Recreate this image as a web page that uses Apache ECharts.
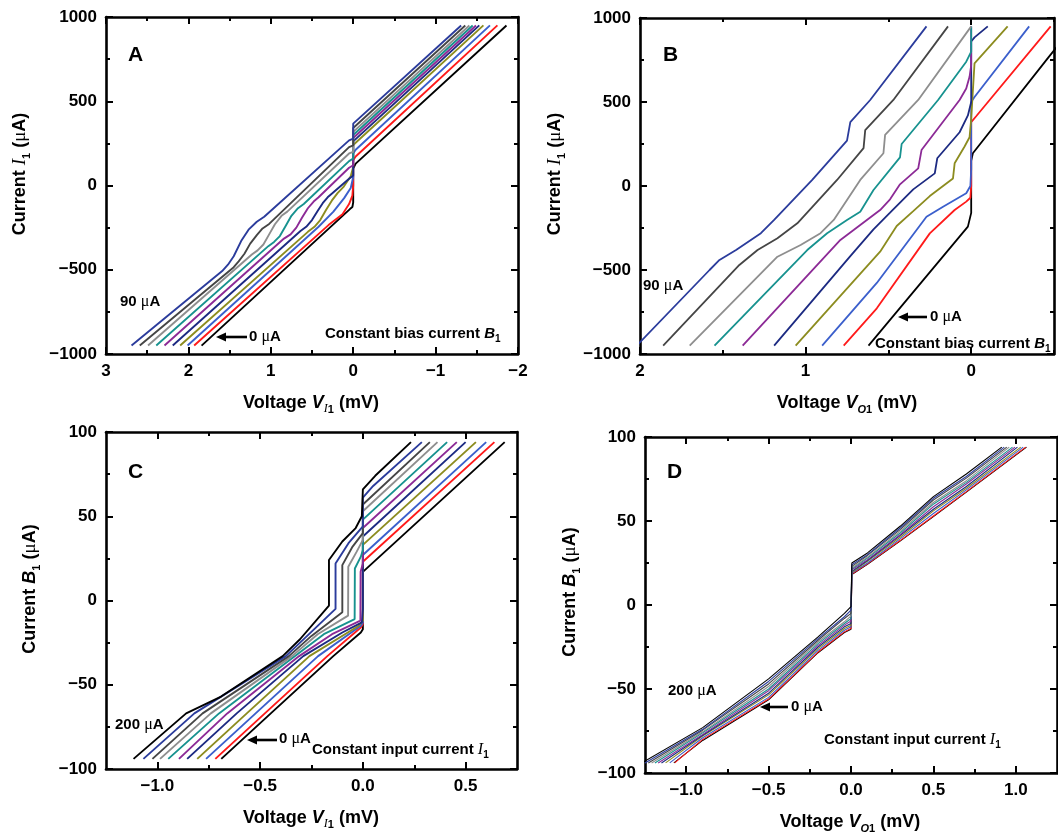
<!DOCTYPE html>
<html><head><meta charset="utf-8">
<script src="https://cdn.jsdelivr.net/npm/echarts@6/dist/echarts.min.js"></script>
<style>html,body{margin:0;padding:0;background:#fff}#c{width:1058px;height:835px}</style>
</head><body><div id="c"></div>
<script>
// ---------- DATA ----------
// Panel A: V_I1 (mV) vs I1 (uA), constant bias current B1 = 0..90 uA
const A_BIAS = [0,10,20,30,40,50,60,70,80,90];
const A00 = [[1.84,-950],[0.04,-140],[0.01,-128],[0,-100],[0,100],[-0.03,130],[-1.86,950]];
const A10 = [[1.93,-950],[0.30,-235],[0.13,-170],[0.05,-110],[0.01,-60],[0,0],[0,150],[-0.03,172],[-1.75,950]];
const A20 = [[2.01,-950],[0.42,-245],[0.24,-155],[0.11,-75],[0.03,-15],[0,50],[0,190],[-0.03,212],[-1.66,950]];
const A30 = [[2.10,-950],[0.55,-275],[0.47,-245],[0.40,-205],[0.33,-145],[0.26,-90],[0.19,-45],[0.12,-10],[0.03,55],[0,110],[0,240],[-1.58,950]];
const A40 = [[2.19,-950],[0.64,-270],[0.57,-245],[0.50,-205],[0.43,-150],[0.37,-105],[0.31,-70],[0.25,-45],[0.05,40],[0,60],[0,262],[-1.53,950]];
const A50 = [[2.29,-950],[0.84,-315],[0.76,-290],[0.69,-250],[0.62,-190],[0.55,-135],[0.48,-95],[0.42,-70],[0.05,105],[0,120],[0,282],[-1.49,950]];
const A60 = [[2.39,-950],[1.03,-360],[0.96,-335],[0.89,-300],[0.82,-240],[0.75,-180],[0.67,-135],[0.60,-110],[0.05,145],[0,160],[0,300],[-1.45,950]];
const A70 = [[2.49,-950],[1.23,-410],[1.16,-385],[1.09,-350],[1.02,-290],[0.95,-230],[0.87,-180],[0.80,-155],[0.05,190],[0,200],[0,318],[-1.41,950]];
const A80 = [[2.59,-950],[1.45,-485],[1.39,-450],[1.32,-405],[1.25,-345],[1.17,-295],[1.10,-255],[1.02,-228],[0.05,228],[0,238],[0,341],[-1.36,950]];
const A90 = [[2.69,-950],[1.59,-508],[1.52,-470],[1.45,-420],[1.36,-330],[1.27,-262],[1.17,-215],[1.08,-185],[0.05,268],[0,278],[0,367],[-1.31,950]];

// Panel B: V_O1 (mV) vs I1 (uA)
const B_BIAS = [0,10,20,30,40,50,60,70,80,90];
const B00 = [[0.62,-950],[0.02,-242],[0,-160],[0,150],[-0.01,195],[-0.47,770],[-0.56,880]];
const B10 = [[0.77,-950],[0.57,-728],[0.25,-282],[0.10,-143],[0.03,-93],[0.005,-70],[0,0],[0,380],[-0.03,415],[-0.48,950]];
const B20 = [[0.90,-950],[0.57,-577],[0.27,-183],[0.17,-123],[0.03,-43],[0.005,0],[0,100],[0,500],[-0.02,530],[-0.35,950]];
const B30 = [[1.06,-950],[0.55,-391],[0.45,-238],[0.35,-150],[0.25,-60],[0.11,45],[0.10,135],[0.04,235],[0.01,290],[0,400],[-0.02,730],[-0.22,950]];
const B40 = [[1.19,-950],[0.73,-417],[0.59,-258],[0.49,-159],[0.35,-20],[0.22,75],[0.205,165],[0.07,320],[0.02,420],[0,500],[0,860],[-0.02,885],[-0.10,950]];
const B50 = [[1.38,-950],[0.79,-321],[0.71,-262],[0.55,-143],[0.49,-79],[0.43,10],[0.32,105],[0.30,214],[0.07,512],[0.03,580],[0.01,650],[0,720],[0,950]];
const B60 = [[1.55,-950],[0.99,-381],[0.87,-281],[0.75,-202],[0.67,-153],[0.59,-24],[0.43,170],[0.42,250],[0.20,512],[0.03,740],[0,800],[0,950]];
const B70 = [[1.70,-950],[1.17,-421],[1.03,-351],[0.91,-281],[0.83,-202],[0.67,36],[0.53,195],[0.52,304],[0.32,512],[0.0,950]];
const B80 = [[1.86,-950],[1.40,-470],[1.29,-381],[1.17,-311],[1.05,-222],[0.81,36],[0.65,225],[0.64,333],[0.47,512],[0.14,950]];
const B90 = [[2.02,-950],[1.58,-500],[1.52,-440],[1.42,-381],[1.27,-281],[1.19,-202],[0.96,36],[0.75,270],[0.73,380],[0.61,512],[0.27,950]];

// Panel C: V_I1 (mV) vs B1 (uA), constant input current I1 = 0..200 uA
const C_INPUT = [0,20,40,60,80,100,120,140,160,180,200];
const C000 = [[-0.689,-94],[-0.448,-67],[-0.144,-33],[-0.01,-19],[0,-17],[0,17],[0.69,94]];
const C020 = [[-0.718,-94],[-0.477,-67],[-0.173,-33],[-0.01,-16],[0,-14],[0,23],[0.64,94]];
const C040 = [[-0.763,-94],[-0.522,-67],[-0.218,-33],[-0.01,-15],[0,-13],[0,27],[0.60,94]];
const C060 = [[-0.806,-94],[-0.565,-67],[-0.26,-33],[-0.02,-15],[0,-12],[0,33],[0.55,94]];
const C080 = [[-0.855,-94],[-0.614,-67],[-0.29,-33],[-0.10,-19],[-0.005,-13],[0,-5],[0,38],[0.50,94]];
const C100 = [[-0.895,-94],[-0.66,-67],[-0.31,-33],[-0.15,-20],[-0.012,-12],[-0.011,17],[0,22],[0,43],[0.457,94]];
const C120 = [[-0.947,-94],[-0.70,-67],[-0.33,-33],[-0.19,-20],[-0.04,-11],[-0.039,19],[-0.01,26],[0,30],[0,48],[0.41,94]];
const C140 = [[-0.987,-94],[-0.74,-67],[-0.345,-33],[-0.22,-20],[-0.072,-9],[-0.071,20],[-0.03,29],[0,36],[0,53],[0.363,94]];
const C160 = [[-1.024,-94],[-0.78,-67],[-0.36,-33],[-0.25,-21],[-0.10,-7],[-0.10,21],[-0.05,32],[0,40],[0,57],[0.326,94]];
const C180 = [[-1.068,-94],[-0.82,-67],[-0.375,-33],[-0.28,-22],[-0.133,-5],[-0.133,22],[-0.07,34],[0,44],[0,61],[0.05,68],[0.287,94]];
const C200 = [[-1.116,-94],[-0.86,-67],[-0.69,-57],[-0.39,-33],[-0.306,-23],[-0.165,-3],[-0.165,24],[-0.10,35],[-0.035,43],[-0.005,50],[0,66],[0.06,74],[0.234,94]];

// Panel D: V_O1 (mV) vs B1 (uA)
const D_INPUT = [0,20,40,60,80,100,120,140,160,180,200];
const D000 = [[-1.075,-94],[-0.9,-80.6],[-0.5,-56.4],[-0.2,-28.4],[-0.04,-16.4],[0,-14.4],[0.005,18.2],[0.1,24.2],[0.3,38.2],[0.5,52.6],[0.7,67.2],[1.065,94]];
const D020 = [[-1.07,-94],[-0.9,-80],[-0.5,-56],[-0.2,-28],[-0.04,-16],[0,-14],[0.005,18.5],[0.1,24.5],[0.3,38.5],[0.5,53],[0.7,67.5],[1.06,94]];
const D040 = [[-1.10,-94],[-0.9,-79],[-0.5,-55],[-0.2,-27],[-0.04,-15],[0,-13],[0.005,19],[0.1,25],[0.3,39.5],[0.5,54.5],[0.7,68.5],[1.045,94]];
const D060 = [[-1.125,-94],[-0.9,-78],[-0.5,-53.5],[-0.2,-26],[-0.04,-14],[0,-12],[0.005,19.5],[0.1,26],[0.3,40.5],[0.5,56],[0.7,69.5],[1.03,94]];
const D080 = [[-1.15,-94],[-0.9,-77.5],[-0.5,-52.5],[-0.2,-25],[-0.04,-13],[0,-11],[0.005,20],[0.1,26.5],[0.3,41.5],[0.5,57],[0.7,70.5],[1.01,94]];
const D100 = [[-1.17,-94],[-0.9,-77],[-0.5,-51],[-0.2,-24],[-0.04,-12],[0,-9.5],[0.005,21],[0.1,27],[0.3,42],[0.5,58.5],[0.7,72],[0.995,94]];
const D120 = [[-1.19,-94],[-0.9,-76],[-0.5,-50],[-0.2,-23],[-0.04,-11],[0,-8],[0.005,21.5],[0.1,28],[0.3,43],[0.5,60],[0.7,73],[0.98,94]];
const D140 = [[-1.21,-94],[-0.9,-75.5],[-0.5,-48.5],[-0.2,-22],[-0.04,-10],[0,-6.5],[0.005,22],[0.1,28.5],[0.3,44],[0.5,61],[0.7,74],[0.96,94]];
const D160 = [[-1.23,-94],[-0.9,-74.5],[-0.5,-47],[-0.2,-21],[-0.04,-8],[0,-5],[0.005,23],[0.1,29.5],[0.3,45],[0.5,62.5],[0.7,75.5],[0.945,94]];
const D180 = [[-1.25,-94],[-0.9,-74],[-0.5,-45.5],[-0.2,-20],[-0.04,-7],[0,-3],[0.005,24],[0.1,30],[0.3,46],[0.5,63.5],[0.7,76.5],[0.93,94]];
const D200 = [[-1.27,-94],[-0.9,-73],[-0.5,-44],[-0.2,-19],[-0.04,-5],[0,-1],[0.005,25],[0.1,31],[0.3,47],[0.5,64.5],[0.7,78],[0.915,94]];

// Tick values
const A_X_MAJOR = [3,2,1,0,-1,-2];        const A_X_MINOR = [2.5,1.5,0.5,-0.5,-1.5];
const B_X_MAJOR = [2,1,0];                const B_X_MINOR = [1.5,0.5,-0.5];
const I1_Y_MAJOR = [-1000,-500,0,500,1000]; const I1_Y_MINOR = [-750,-250,250,750];
const C_X_MAJOR = [-1.0,-0.5,0.0,0.5];    const C_X_MINOR = [-0.75,-0.25,0.25];
const D_X_MAJOR = [-1.0,-0.5,0.0,0.5,1.0]; const D_X_MINOR = [-0.75,-0.25,0.25,0.75];
const B1_Y_MAJOR = [-100,-50,0,50,100];   const B1_Y_MINOR = [-75,-25,25,75];

const PAL = ['#000000','#ff1a1a','#3b5fcc','#8c8c1f','#1c2a82','#8c2a96','#17928f','#8e8e8e','#454545','#2b3c9c','#000000'];

// ---------- CHART ----------
const SANS = '"Liberation Sans", Arial, Helvetica, sans-serif';
const SERIF = '"Liberation Serif", "Times New Roman", serif';
const fmtInt = v => String(Math.round(v)).replace('-', '\u2212');
const fmt1 = v => (Math.abs(v) < 1e-9 ? '0.0' : v.toFixed(1).replace('-', '\u2212'));

const xAxes = [], yAxes = [], grids = [];
function addAxes(list, gi, dim, min, max, inverse, majors, minors, fmt) {
  const posMain = dim === 'x' ? 'bottom' : 'left';
  const posOpp = dim === 'x' ? 'top' : 'right';
  const base = {gridIndex: gi, type: 'value', min, max, inverse, splitLine: {show: false}, minorTick: {show: false}};
  const mainIdx = list.length;
  list.push(Object.assign({}, base, {
    position: posMain,
    axisLine: {show: true, onZero: false, lineStyle: {color: '#000', width: 2.6}},
    axisTick: {show: true, inside: true, length: 7, customValues: majors, lineStyle: {color: '#000', width: 2}},
    axisLabel: {show: true, customValues: majors, formatter: fmt, margin: 9, color: '#000',
      fontFamily: SANS, fontWeight: 'bold', fontSize: 17}
  }));
  list.push(Object.assign({}, base, {
    position: posMain, axisLine: {show: false, onZero: false},
    axisTick: {show: true, inside: true, length: 4, customValues: minors, lineStyle: {color: '#000', width: 2}},
    axisLabel: {show: false}
  }));
  list.push(Object.assign({}, base, {
    position: posOpp,
    axisLine: {show: true, onZero: false, lineStyle: {color: '#000', width: 2.6}},
    axisTick: {show: true, inside: true, length: 7, customValues: majors, lineStyle: {color: '#000', width: 2}},
    axisLabel: {show: false}
  }));
  list.push(Object.assign({}, base, {
    position: posOpp, axisLine: {show: false, onZero: false},
    axisTick: {show: true, inside: true, length: 4, customValues: minors, lineStyle: {color: '#000', width: 2}},
    axisLabel: {show: false}
  }));
  return mainIdx;
}

grids.push({left: 106, top: 17, width: 412, height: 337});
grids.push({left: 640, top: 18, width: 414, height: 336});
grids.push({left: 106, top: 432, width: 411, height: 337});
grids.push({left: 645, top: 437, width: 412, height: 336});
grids.forEach(g => { g.containLabel = false; g.outerBoundsMode = 'none'; });

const ax = [];
ax.push([addAxes(xAxes, 0, 'x', -2, 3, true, A_X_MAJOR, A_X_MINOR, fmtInt), addAxes(yAxes, 0, 'y', -1000, 1000, false, I1_Y_MAJOR, I1_Y_MINOR, fmtInt)]);
ax.push([addAxes(xAxes, 1, 'x', -0.5, 2, true, B_X_MAJOR, B_X_MINOR, fmtInt), addAxes(yAxes, 1, 'y', -1000, 1000, false, I1_Y_MAJOR, I1_Y_MINOR, fmtInt)]);
ax.push([addAxes(xAxes, 2, 'x', -1.25, 0.75, false, C_X_MAJOR, C_X_MINOR, fmt1), addAxes(yAxes, 2, 'y', -100, 100, false, B1_Y_MAJOR, B1_Y_MINOR, fmtInt)]);
ax.push([addAxes(xAxes, 3, 'x', -1.25, 1.25, false, D_X_MAJOR, D_X_MINOR, fmt1), addAxes(yAxes, 3, 'y', -100, 100, false, B1_Y_MAJOR, B1_Y_MINOR, fmtInt)]);

const panels = [
  {curves: [A00,A10,A20,A30,A40,A50,A60,A70,A80,A90], vals: A_BIAS, w: 1.9},
  {curves: [B00,B10,B20,B30,B40,B50,B60,B70,B80,B90], vals: B_BIAS, w: 1.8},
  {curves: [C000,C020,C040,C060,C080,C100,C120,C140,C160,C180,C200], vals: C_INPUT, w: 1.9},
  {curves: [D000,D020,D040,D060,D080,D100,D120,D140,D160,D180,D200], vals: D_INPUT, w: 1.1}
];
const series = [];
panels.forEach((p, pi) => {
  p.curves.forEach((d, k) => {
    series.push({
      type: 'line', name: 'P' + pi + ' ' + p.vals[k] + ' \u00b5A', data: d,
      xAxisIndex: ax[pi][0], yAxisIndex: ax[pi][1],
      showSymbol: false, symbol: 'none', clip: true, smooth: false,
      lineStyle: {color: PAL[k], width: p.w}, itemStyle: {color: PAL[k]},
      emphasis: {disabled: true}, z: 2 + k * 0.01
    });
  });
});

// ---------- TEXT / ANNOTATIONS ----------
const RT = {
  b: {fontFamily: SANS, fontWeight: 'bold', fontSize: 18, lineHeight: 24, fill: '#000'},
  bi: {fontFamily: SANS, fontWeight: 'bold', fontStyle: 'italic', fontSize: 18, lineHeight: 24, fill: '#000'},
  si: {fontFamily: SERIF, fontStyle: 'italic', fontWeight: 'normal', fontSize: 19, lineHeight: 24, fill: '#000'},
  mu: {fontFamily: SERIF, fontWeight: 'normal', fontSize: 19, lineHeight: 24, fill: '#000'},
  sub: {fontFamily: SANS, fontWeight: 'bold', fontSize: 11, lineHeight: 12, verticalAlign: 'bottom', fill: '#000'},
  subi: {fontFamily: SANS, fontWeight: 'bold', fontStyle: 'italic', fontSize: 11, lineHeight: 12, verticalAlign: 'bottom', fill: '#000'},
  subsi: {fontFamily: SERIF, fontStyle: 'italic', fontWeight: 'normal', fontSize: 12, lineHeight: 12, verticalAlign: 'bottom', fill: '#000'},
  a: {fontFamily: SANS, fontWeight: 'bold', fontSize: 15, lineHeight: 20, fill: '#000'},
  ai: {fontFamily: SANS, fontWeight: 'bold', fontStyle: 'italic', fontSize: 15, lineHeight: 20, fill: '#000'},
  asi: {fontFamily: SERIF, fontStyle: 'italic', fontWeight: 'normal', fontSize: 16, lineHeight: 20, fill: '#000'},
  amu: {fontFamily: SERIF, fontWeight: 'normal', fontSize: 16, lineHeight: 20, fill: '#000'},
  asub: {fontFamily: SANS, fontWeight: 'bold', fontSize: 10, lineHeight: 10, verticalAlign: 'bottom', fill: '#000'}
};
function T(x, y, text, align, rot) {
  return {type: 'text', x, y, rotation: rot || 0, z: 100, silent: true,
    style: {text, rich: RT, align: align || 'left', verticalAlign: 'middle', fill: '#000',
      fontFamily: SANS, fontWeight: 'bold', fontSize: 15}};
}
function L(x, y, ch) {
  return {type: 'text', x, y, z: 100, silent: true,
    style: {text: ch, fill: '#000', fontFamily: SANS, fontWeight: 'bold', fontSize: 21, align: 'left', verticalAlign: 'middle'}};
}
function arrow(xTip, y, xEnd) {
  return [
    {type: 'line', z: 100, silent: true, shape: {x1: xTip + 7, y1: y, x2: xEnd, y2: y}, style: {stroke: '#000', lineWidth: 2.6}},
    {type: 'polygon', z: 100, silent: true, shape: {points: [[xTip, y], [xTip + 10, y - 4.5], [xTip + 10, y + 4.5]]}, style: {fill: '#000'}}
  ];
}
const Y_I1 = '{b|Current }{si|I}{sub|1}{b| (}{mu|\u03bc}{b|A)}';
const Y_B1 = '{b|Current }{bi|B}{sub|1}{b| (}{mu|\u03bc}{b|A)}';
const X_VI1 = '{b|Voltage }{bi|V}{subsi|I}{sub|1}{b| (mV)}';
const X_VO1 = '{b|Voltage }{bi|V}{subi|O}{sub|1}{b| (mV)}';
const ROT = Math.PI / 2;

const graphics = [
  T(20, 174, Y_I1, 'center', ROT), T(311, 403, X_VI1, 'center'),
  T(555, 174, Y_I1, 'center', ROT), T(847, 403, X_VO1, 'center'),
  T(30, 589, Y_B1, 'center', ROT), T(311, 818, X_VI1, 'center'),
  T(570, 592, Y_B1, 'center', ROT), T(850, 822, X_VO1, 'center'),
  L(128, 55, 'A'), L(663, 55, 'B'), L(128, 472, 'C'), L(667, 472, 'D'),
  T(120, 302, '{a|90 }{amu|\u03bc}{a|A}'),
  T(249, 337, '{a|0 }{amu|\u03bc}{a|A}'),
  T(325, 334, '{a|Constant bias current }{ai|B}{asub|1}'),
  T(643, 286, '{a|90 }{amu|\u03bc}{a|A}'),
  T(930, 317, '{a|0 }{amu|\u03bc}{a|A}'),
  T(875, 344, '{a|Constant bias current }{ai|B}{asub|1}'),
  T(115, 725, '{a|200 }{amu|\u03bc}{a|A}'),
  T(279, 739, '{a|0 }{amu|\u03bc}{a|A}'),
  T(312, 750, '{a|Constant input current }{asi|I}{asub|1}'),
  T(668, 691, '{a|200 }{amu|\u03bc}{a|A}'),
  T(791, 707, '{a|0 }{amu|\u03bc}{a|A}'),
  T(824, 740, '{a|Constant input current }{asi|I}{asub|1}')
].concat(arrow(216, 337, 247), arrow(898, 317, 927), arrow(247, 740, 277), arrow(760, 707, 788));

const chart = echarts.init(document.getElementById('c'), null, {renderer: 'canvas'});
chart.setOption({
  animation: false,
  backgroundColor: '#ffffff',
  grid: grids,
  xAxis: xAxes,
  yAxis: yAxes,
  series,
  graphic: graphics
});
</script>
</body></html>
